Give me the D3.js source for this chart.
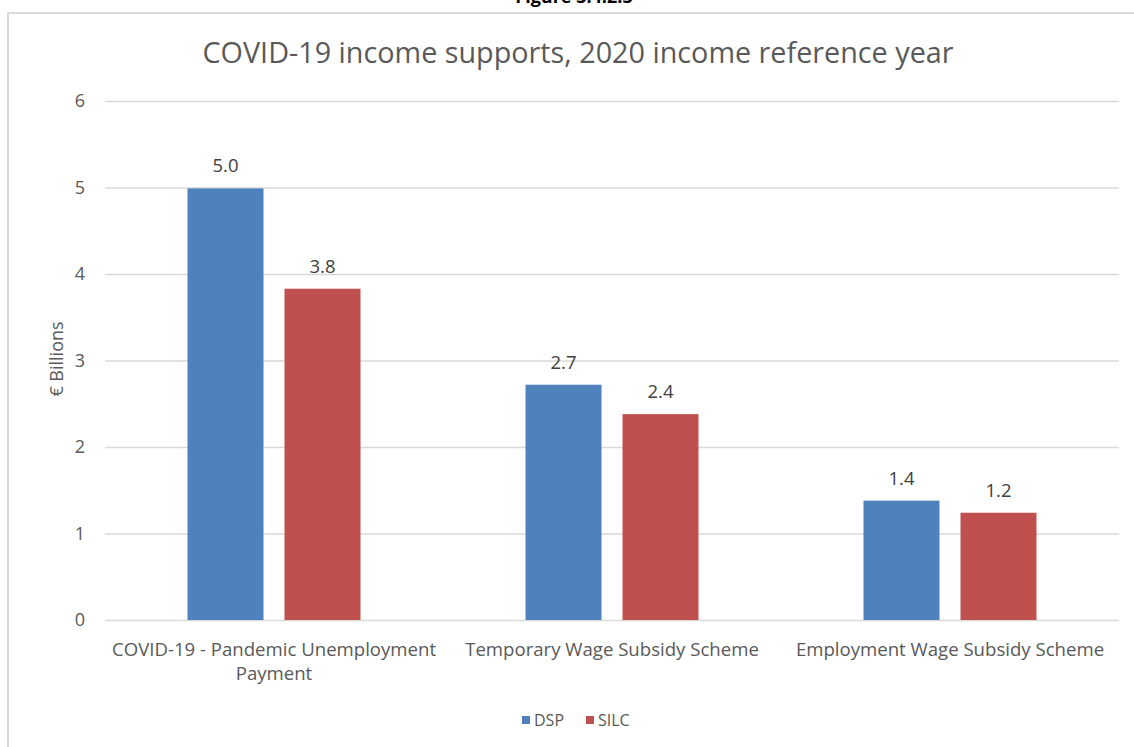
<!DOCTYPE html>
<html>
<head>
<meta charset="utf-8">
<script src="https://cdn.jsdelivr.net/npm/d3@7"></script>
<style>
  html, body { margin: 0; padding: 0; background: #fff; }
  svg { display: block; }
  text { font-family: "Open Sans", "Noto Sans", sans-serif; }
</style>
</head>
<body>
<svg id="chart" width="1134" height="747"></svg>
<script>
// Income support schemes (categories) and the two data sources (series)
const categories = [
  ["COVID-19 - Pandemic Unemployment", "Payment"],
  ["Temporary Wage Subsidy Scheme"],
  ["Employment Wage Subsidy Scheme"]
];
const series = ["DSP", "SILC"];
const dspValues = [4.99, 2.72, 1.38];
const silcValues = [3.83, 2.38, 1.24];
const yTicks = [0, 1, 2, 3, 4, 5, 6];
const seriesColors = ["#4F81BD", "#C0504D"];

const svg = d3.select("#chart");
const plot = { left: 105, right: 1119, top: 101, bottom: 620 };

// Figure caption partly above the page edge
svg.append("text")
  .attr("x", 574).attr("y", 3)
  .attr("text-anchor", "middle")
  .attr("font-size", 18).attr("font-weight", "bold")
  .attr("fill", "#000")
  .text("Figure 3.4.2.3");

// Chart area border
svg.append("rect")
  .attr("x", 8).attr("y", 13)
  .attr("width", 1140).attr("height", 760)
  .attr("fill", "#fff")
  .attr("stroke", "#D9D9D9").attr("stroke-width", 2);

function fitWidth(sel, target) {
  const len = sel.node().getComputedTextLength();
  const fs = parseFloat(sel.attr("font-size"));
  sel.attr("font-size", (fs * target / len).toFixed(2));
}

// Title
const title = svg.append("text")
  .attr("x", 578).attr("y", 63)
  .attr("text-anchor", "middle")
  .attr("font-size", 26)
  .attr("fill", "#595959")
  .text("COVID-19 income supports, 2020 income reference year");
fitWidth(title, 751);

// Scales
const x0 = d3.scaleBand()
  .domain(d3.range(categories.length))
  .range([plot.left, plot.right])
  .paddingInner(0).paddingOuter(0);
const x1 = d3.scaleBand()
  .domain(series)
  .range([82.5, x0.bandwidth() - 82.5])
  .paddingInner(0.2165);
const y = d3.scaleLinear().domain([0, 6]).range([plot.bottom, plot.top]);

// Gridlines and y tick labels
const yAxis = d3.axisLeft(y).tickValues(yTicks).tickSize(-(plot.right - plot.left)).tickPadding(20)
  .tickFormat(d3.format("d"));
const yg = svg.append("g").attr("transform", `translate(${plot.left},0)`).call(yAxis);
yg.select(".domain").remove();
yg.selectAll(".tick line").attr("stroke", "#D9D9D9").attr("stroke-width", 1.3);
yg.selectAll(".tick text")
  .attr("fill", "#595959")
  .attr("font-size", 18)
  .attr("font-family", "'Open Sans', sans-serif");

// Y axis title
svg.append("text")
  .attr("transform", "translate(63,359) rotate(-90)")
  .attr("text-anchor", "middle")
  .attr("font-size", 18)
  .attr("fill", "#595959")
  .text("€ Billions");

// Bars
const rows = categories.map((c, i) => ({
  i,
  vals: [
    { key: "DSP", value: dspValues[i] },
    { key: "SILC", value: silcValues[i] }
  ]
}));
const color = d3.scaleOrdinal().domain(series).range(seriesColors);
const fmt = d3.format(".1f");

const groups = svg.append("g").selectAll("g")
  .data(rows).join("g")
  .attr("transform", d => `translate(${x0(d.i)},0)`);

groups.selectAll("rect")
  .data(d => d.vals).join("rect")
  .attr("x", d => x1(d.key))
  .attr("width", x1.bandwidth())
  .attr("y", d => y(d.value))
  .attr("height", d => y(0) - y(d.value))
  .attr("fill", d => color(d.key));

groups.selectAll("text.val")
  .data(d => d.vals).join("text")
  .attr("class", "val")
  .attr("x", d => x1(d.key) + x1.bandwidth() / 2)
  .attr("y", d => y(d.value) - 16)
  .attr("text-anchor", "middle")
  .attr("font-size", 18.5)
  .attr("fill", "#404040")
  .text(d => fmt(d.value));

// Category labels
const catFont = 18.6;
const cat = svg.append("g").selectAll("text")
  .data(categories).join("text")
  .attr("text-anchor", "middle")
  .attr("font-size", catFont)
  .attr("fill", "#595959");
cat.each(function(lines, i) {
  const t = d3.select(this);
  lines.forEach((ln, k) => {
    t.append("tspan")
      .attr("x", x0(i) + x0.bandwidth() / 2)
      .attr("y", 656 + k * 24)
      .text(ln);
  });
});

// Legend
const legend = svg.append("g").attr("transform", "translate(522,720)");
const items = legend.selectAll("g").data(series).join("g")
  .attr("transform", (d, i) => `translate(${i * 64},0)`);
items.append("rect")
  .attr("x", 0).attr("y", -4).attr("width", 8).attr("height", 8)
  .attr("fill", d => color(d));
items.append("text")
  .attr("x", 12).attr("y", 6)
  .attr("font-size", 16)
  .attr("fill", "#595959")
  .text(d => d);
</script>
</body>
</html>
